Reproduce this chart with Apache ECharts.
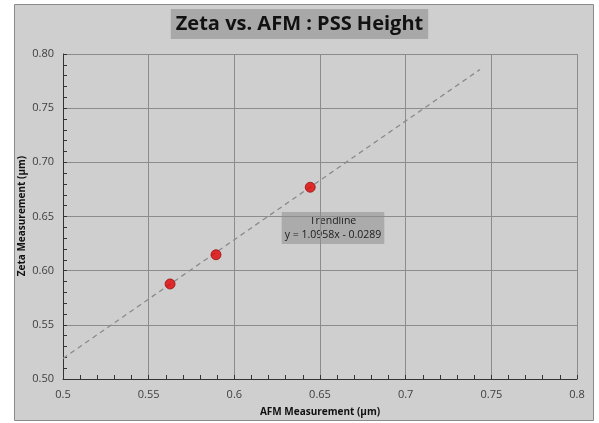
<!DOCTYPE html>
<html>
<head>
<meta charset="utf-8">
<script src="https://cdn.jsdelivr.net/npm/echarts@6/dist/echarts.min.js"></script>
<style>
	html, body { margin: 0; padding: 0; background: #ffffff; }
	#chart { width: 599px; height: 423px; }
</style>
</head>
<body>
<div id="chart"></div>
<script>
// measured points
var afmValues = [0.5625, 0.5893, 0.6443];
var zetaValues = [0.5877, 0.6147, 0.6770];

// trendline from the fit shown in the chart
var trendSlope = 1.0958;
var trendIntercept = -0.0289;
var trendRange = [0.5, 0.7434];
var trendText = ['Trendline', 'y = 1.0958x - 0.0289'];

var titleText = 'Zeta vs. AFM : PSS Height';
var xName = 'AFM Measurement (\u00b5m)';
var yName = 'Zeta Measurement (\u00b5m)';

var points = afmValues.map(function(x, i) {
	return [x, zetaValues[i]];
});
var trendPoints = trendRange.map(function(x) {
	return [x, trendSlope * x + trendIntercept];
});

var chart = echarts.init(document.getElementById('chart'));
var fontFamily = '"Open Sans", "Noto Sans", sans-serif';

chart.setOption({
	backgroundColor: '#ffffff',
	animation: false,
	graphic: [{
		type: 'rect',
		z: -10,
		shape: { x: 14.5, y: 4.5, width: 579, height: 416 },
		style: { fill: '#cfcfcf', stroke: '#8a8a8a', lineWidth: 1 }
	}, {
		type: 'text',
		left: 'center',
		top: 9,
		style: {
			text: titleText,
			fontFamily: fontFamily,
			fontWeight: 'bold',
			fontSize: 20,
			fill: '#111111',
			backgroundColor: '#a8a8a8',
			padding: [5, 5, 5, 5]
		}
	}, {
		type: 'text',
		x: 333,
		y: 212,
		style: {
			text: trendText.join('\n'),
			align: 'center',
			fontFamily: fontFamily,
			fontSize: 10.5,
			lineHeight: 14,
			fill: '#1a1a1a',
			backgroundColor: '#ababab',
			padding: [2, 3, 2, 3]
		}
	}, {
		// y axis title placed by hand, the axis name kept drifting left
		type: 'text',
		x: 22,
		y: 216,
		rotation: Math.PI / 2,
		style: {
			text: yName,
			align: 'center',
			verticalAlign: 'middle',
			fontFamily: fontFamily,
			fontWeight: 'bold',
			fontSize: 10,
			fill: '#111111'
		}
	}],
	grid: {
		left: 63,
		right: 22,
		top: 54,
		bottom: 44
	},
	xAxis: {
		type: 'value',
		min: 0.5,
		max: 0.8,
		interval: 0.05,
		name: xName,
		nameLocation: 'middle',
		nameGap: 28,
		nameTextStyle: { fontFamily: fontFamily, fontWeight: 'bold', fontSize: 10, color: '#111111' },
		axisLine: { show: true, lineStyle: { color: '#333333', width: 1 } },
		axisTick: { show: true, inside: true, length: 4, lineStyle: { color: '#333333' } },
		minorTick: { show: true, splitNumber: 5, length: 4, lineStyle: { color: '#333333' } },
		splitLine: { show: true, lineStyle: { color: '#8c8c8c', width: 1 } },
		axisLabel: { fontFamily: fontFamily, fontSize: 11, color: '#404040', margin: 10 }
	},
	yAxis: {
		type: 'value',
		min: 0.5,
		max: 0.8,
		interval: 0.05,
		axisLine: { show: true, lineStyle: { color: '#333333', width: 1 } },
		axisTick: { show: true, inside: true, length: 4, lineStyle: { color: '#333333' } },
		minorTick: { show: true, splitNumber: 5, length: 4, lineStyle: { color: '#333333' } },
		splitLine: { show: true, lineStyle: { color: '#8c8c8c', width: 1 } },
		axisLabel: {
			fontFamily: fontFamily,
			fontSize: 11,
			color: '#404040',
			margin: 9,
			formatter: function(v) { return v.toFixed(2); }
		}
	},
	series: [{
		type: 'line',
		data: trendPoints,
		showSymbol: false,
		symbol: 'none',
		lineStyle: { color: '#8a8a8a', width: 1.3, type: [5, 4] },
		z: 2
	}, {
		type: 'scatter',
		data: points,
		symbol: 'circle',
		symbolSize: 10,
		itemStyle: { color: '#e00000', borderColor: '#9a1010', borderWidth: 1 },
		z: 3
	}]
});
</script>
</body>
</html>
